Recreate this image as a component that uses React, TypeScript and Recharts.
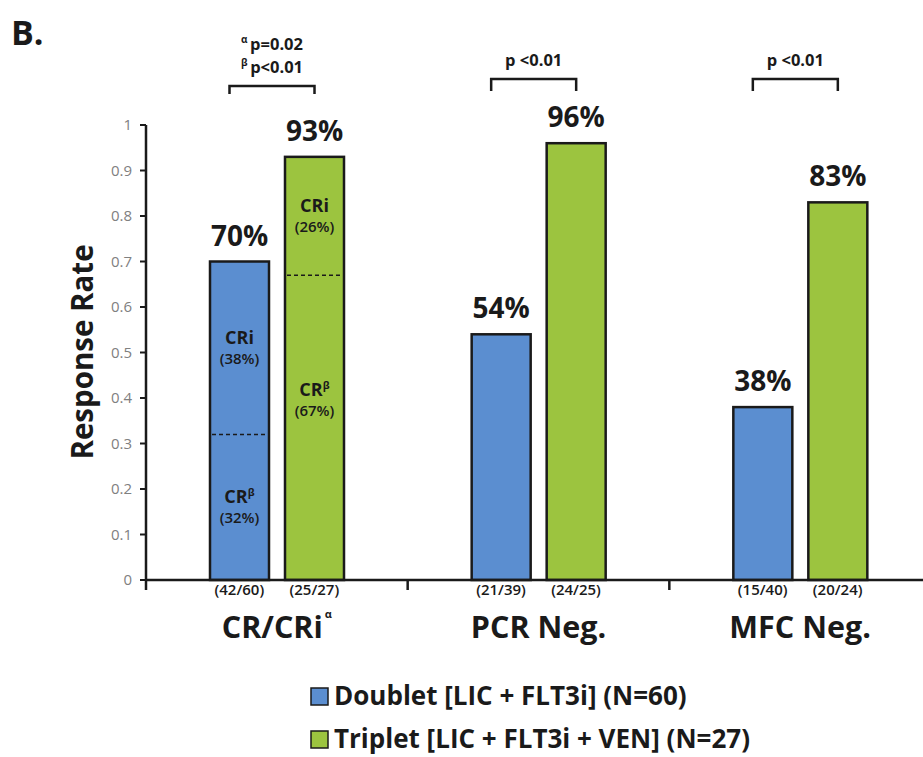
import { BarChart, Bar, XAxis, YAxis } from "recharts"

const categories = ["CR/CRi", "PCR Neg.", "MFC Neg."]
const doublet = [0.7, 0.54, 0.38]
const triplet = [0.93, 0.96, 0.83]
// CR part of the CR/CRi bar (the rest is CRi)
const doubletCR = [0.32, null, null]
const tripletCR = [0.67, null, null]
const doubletPct = ["70%", "54%", "38%"]
const tripletPct = ["93%", "96%", "83%"]
const doubletCounts = ["(42/60)", "(21/39)", "(15/40)"]
const tripletCounts = ["(25/27)", "(24/25)", "(20/24)"]
const doubletParts = ["(32%)", "(38%)"]
const tripletParts = ["(67%)", "(26%)"]
const pLines = [["p=0.02", "p<0.01"], ["p <0.01"], ["p <0.01"]]
const pMarks = ["α", "β"]
const yTicks = [0, 0.1, 0.2, 0.3, 0.4, 0.5, 0.6, 0.7, 0.8, 0.9, 1]
const seriesNames = ["Doublet [LIC + FLT3i] (N=60)", "Triplet [LIC + FLT3i + VEN] (N=27)"]

const BLUE = "#5B8ED0"
const GREEN = "#9CC43F"
const INK = "#1a1a1a"
const FONT = "'Open Sans', sans-serif"

const W = 940
const H = 757
const PLOT_LEFT = 146
const PLOT_TOP = 125
const PLOT_BOTTOM = 580
const X_AXIS_H = 80
const MARGIN = { top: PLOT_TOP, right: 9, left: 0, bottom: H - PLOT_BOTTOM - X_AXIS_H }
const BAND = (W - MARGIN.right - PLOT_LEFT) / categories.length
const BAR_SIZE = 59
const BAR_GAP = 16

const data = categories.map((c, i) => ({
  category: c,
  doublet: doublet[i],
  triplet: triplet[i],
}))

function segLabel(cx: number, mid: number, name: string, sup: boolean, pct: string, key: string) {
  return (
    <g key={key}>
      <text x={cx} y={mid - 4} textAnchor="middle" fontSize={18} fontWeight={700} fill={INK} fontFamily={FONT}>
        {name}
        {sup && (
          <tspan fontSize={10.5} dy={-7}>
            β
          </tspan>
        )}
      </text>
      <text x={cx} y={mid + 16} textAnchor="middle" fontSize={15} fontWeight={600} fill={INK} fontFamily={FONT}>
        {pct}
      </text>
    </g>
  )
}

function makeShape(totals: number[], crs: (number | null)[], pcts: string[], parts: string[], isTriplet: boolean) {
  return (props: any) => {
    const { x, y, width, height, index, fill } = props
    const cx = x + width / 2
    const cr = crs[index]
    const els: any[] = []
    els.push(<rect key="r" x={x} y={y} width={width} height={height} fill={fill} stroke={INK} strokeWidth={2.5} />)
    if (cr != null) {
      const split = y + height * (1 - cr / totals[index])
      const lowH = y + height - split
      els.push(
        <line key="d" x1={x + 2} x2={x + width - 2} y1={split} y2={split} stroke={INK} strokeWidth={1.5} strokeDasharray="4 3" />
      )
      els.push(segLabel(cx, (y + split) / 2, "CRi", false, parts[1], "upper"))
      els.push(segLabel(cx, split + Math.min(lowH / 2, 125), "CR", true, parts[0], "lower"))
    }
    els.push(
      <text key="v" x={cx} y={y - 16} textAnchor="middle" fontSize={28} fontWeight={700} fill={INK} fontFamily={FONT}>
        {pcts[index]}
      </text>
    )
    if (isTriplet) {
      const left = x - BAR_GAP - width / 2 - 10
      const right = cx
      const mid = (left + right) / 2
      const lines = pLines[index]
      const top = lines.length > 1 ? 86 : 79
      const leg = lines.length > 1 ? 8 : 12
      els.push(
        <path
          key="b"
          d={`M${left},${top + leg} L${left},${top} L${right},${top} L${right},${top + leg}`}
          fill="none"
          stroke={INK}
          strokeWidth={2.5}
        />
      )
      lines.forEach((t, k) => {
        const base = top - 13 - (lines.length - 1 - k) * 23
        els.push(
          <text key={`p${k}`} x={mid} y={base} textAnchor="middle" fontSize={16.5} fontWeight={700} fill={INK} fontFamily={FONT}>
            {lines.length > 1 && (
              <tspan fontSize={10} dy={-7}>
                {pMarks[k]}{" "}
              </tspan>
            )}
            <tspan dy={lines.length > 1 ? 7 : 0}>{t}</tspan>
          </text>
        )
      })
    }
    return <g>{els}</g>
  }
}

function CategoryTick(props: any) {
  const { x, payload } = props
  const i = categories.indexOf(payload.value)
  const off = BAR_GAP / 2 + BAR_SIZE / 2
  return (
    <g>
      <line x1={x - BAND / 2} x2={x - BAND / 2} y1={PLOT_BOTTOM} y2={PLOT_BOTTOM + 10} stroke={INK} strokeWidth={2.5} />
      <text x={x - off} y={PLOT_BOTTOM + 15} textAnchor="middle" fontSize={15} fontWeight={600} fill={INK} fontFamily={FONT}>
        {doubletCounts[i]}
      </text>
      <text x={x + off} y={PLOT_BOTTOM + 15} textAnchor="middle" fontSize={15} fontWeight={600} fill={INK} fontFamily={FONT}>
        {tripletCounts[i]}
      </text>
      <text x={x} y={PLOT_BOTTOM + 58} textAnchor="middle" fontSize={30.5} fontWeight={700} fill={INK} fontFamily={FONT}>
        {categories[i]}
        {i === 0 && (
          <tspan fontSize={11} dy={-20} dx={2}>
            α
          </tspan>
        )}
      </text>
    </g>
  )
}

const YTitle = () => (
  <text
    transform={`translate(93, 352) rotate(-90)`}
    textAnchor="middle"
    fontSize={29.5}
    fontWeight={700}
    fill={INK}
    fontFamily={FONT}
  >
    Response Rate
  </text>
)

export default function App() {
  return (
    <div style={{ position: "absolute", left: 0, top: 0, width: 923, height: 757, overflow: "hidden", background: "#fff" }}>
      <BarChart width={W} height={H} data={data} margin={MARGIN} barSize={BAR_SIZE} barGap={BAR_GAP}>
        <XAxis
          dataKey="category"
          height={X_AXIS_H}
          interval={0}
          axisLine={{ stroke: INK, strokeWidth: 2.5 }}
          tickLine={false}
          tick={<CategoryTick />}
        />
        <YAxis
          width={PLOT_LEFT}
          domain={[0, 1]}
          ticks={yTicks}
          interval={0}
          axisLine={{ stroke: INK, strokeWidth: 2.5 }}
          tickLine={{ stroke: INK, strokeWidth: 2 }}
          tickSize={6}
          tickMargin={8}
          tick={{ fill: "#808080", fontSize: 15, fontFamily: FONT }}
          label={<YTitle />}
        />
        <Bar
          dataKey="doublet"
          fill={BLUE}
          isAnimationActive={false}
          shape={makeShape(doublet, doubletCR, doubletPct, doubletParts, false)}
        />
        <Bar
          dataKey="triplet"
          fill={GREEN}
          isAnimationActive={false}
          shape={makeShape(triplet, tripletCR, tripletPct, tripletParts, true)}
        />
      </BarChart>
      <svg width={923} height={757} style={{ position: "absolute", left: 0, top: 0, pointerEvents: "none" }}>
        <text x={11} y={45} fontSize={34} fontWeight={700} fill={INK} fontFamily={FONT}>
          B.
        </text>
        {seriesNames.map((name, i) => (
          <g key={name}>
            <rect x={311} y={688 + i * 43} width={17} height={17} fill={i === 0 ? BLUE : GREEN} stroke={INK} strokeWidth={1.5} />
            <text x={334} y={705 + i * 43} fontSize={26} fontWeight={700} fill={INK} fontFamily={FONT}>
              {name}
            </text>
          </g>
        ))}
      </svg>
    </div>
  )
}
